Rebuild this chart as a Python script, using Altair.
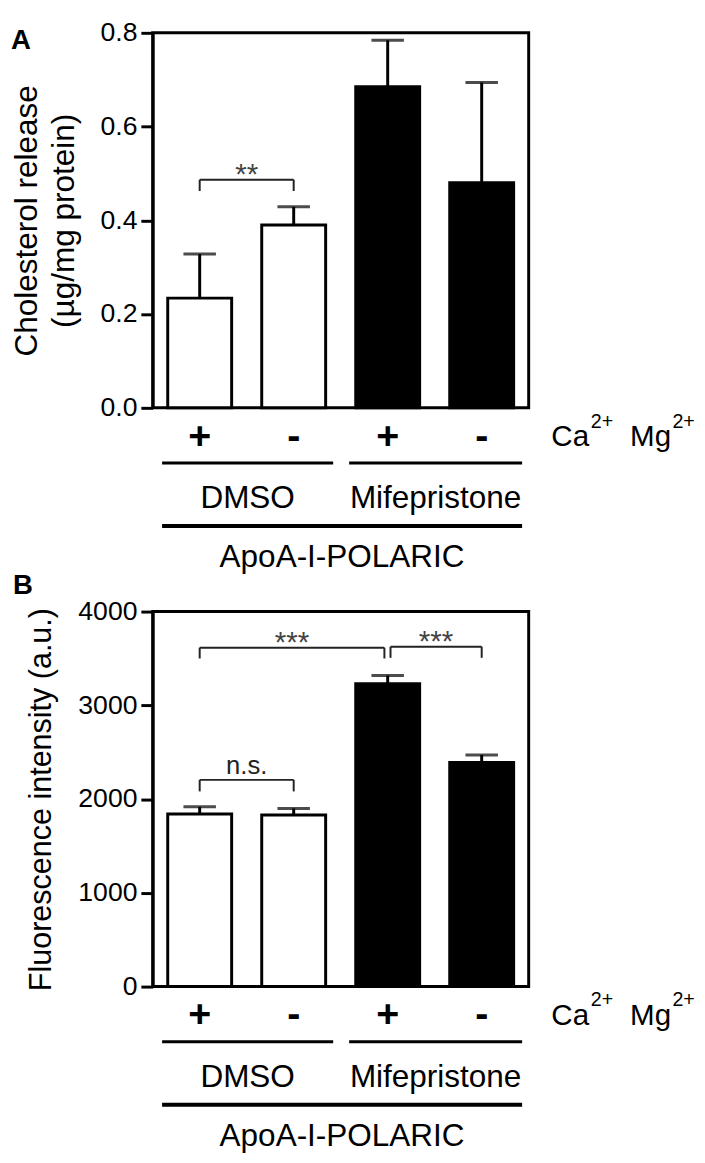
import altair as alt
import pandas as pd

# ---- data ----
conds = ["DMSO|+", "DMSO|-", "Mifepristone|+", "Mifepristone|-"]
treat = ["DMSO", "DMSO", "Mifepristone", "Mifepristone"]

chol_mean = [0.234, 0.390, 0.685, 0.480]
chol_err = [0.094, 0.039, 0.099, 0.214]

fluo_mean = [1840, 1830, 3230, 2390]
fluo_err = [78, 70, 88, 80]

# significance brackets (x in bar-slot units, 0.5 = first bar centre)
a_br_x1 = [0.5]
a_br_x2 = [1.5]
a_br_top = [0.4865]
a_br_bot = [0.4626]
a_br_label = ["**"]

b_br_x1 = [0.5, 0.5, 2.53]
b_br_x2 = [1.5, 2.465, 3.5]
b_br_top = [2205, 3615, 3625]
b_br_bot = [2082, 3500, 3507]
b_br_label = ["n.s.", "***", "***"]

groups = ["DMSO", "Mifepristone"]
group_start = [0.1, 2.09]
group_end = [1.92, 3.93]
outer_label = ["ApoA-I-POLARIC"]
outer_start = [0.1]
outer_end = [3.93]

FONT = "Liberation Sans"
W, H = 382, 381


def panel(mean, err, dom, ticks, fmt, ytitle, tsize, tpad, bx1, bx2, btop, bbot, blab,
          letter, letter_x, letter_y):
    df = pd.DataFrame({"cond": conds, "treat": treat, "v": mean, "e": err})
    bdf = pd.DataFrame({"x1": bx1, "x2": bx2, "top": btop, "bot": bbot, "label": blab})
    gdf = pd.DataFrame({"group": groups, "start": group_start, "end": group_end})
    odf = pd.DataFrame({"group": outer_label, "start": outer_start, "end": outer_end})
    one = pd.DataFrame({"k": [0]})

    yax = alt.Axis(values=ticks, format=fmt, title=ytitle, titleFontSize=tsize,
                   titleLineHeight=38, titlePadding=tpad, titleFontWeight="normal",
                   titleColor="black", labelFontSize=27, labelColor="black",
                   labelPadding=4, tickSize=12, tickWidth=3, tickColor="black",
                   domainWidth=3, domainColor="black", grid=False)
    ysc = alt.Scale(domain=dom, nice=False, zero=True)

    def Y(f):
        return alt.Y(f, type="quantitative", scale=ysc, axis=yax)

    xsc = alt.Scale(paddingInner=0.32, paddingOuter=0.16)

    def XB(ax=None):
        return alt.X("cond:N", sort=conds, scale=xsc, axis=ax)

    xaxis = alt.Axis(title=None, labelExpr="split(datum.label, '|')[1]",
                     labelFontSize=40, labelFontWeight="bold", labelPadding=9,
                     labelAngle=0, domain=False, ticks=False, tickSize=0,
                     labelColor="black")

    def XQ(f):
        return alt.X(f, type="quantitative",
                     scale=alt.Scale(domain=[0, 4], nice=False, zero=False), axis=None)

    bars = alt.Chart(df).mark_bar(stroke="black", strokeWidth=3).encode(
        x=XB(xaxis), y=Y("v"),
        color=alt.Color("treat:N", scale=alt.Scale(domain=["DMSO", "Mifepristone"],
                                                   range=["white", "black"]), legend=None))
    errl = alt.Chart(df).transform_calculate(hi="datum.v + datum.e").mark_rule(
        strokeWidth=3, color="black").encode(x=XB(), y=Y("v"), y2="hi:Q")
    caps = alt.Chart(df).transform_calculate(hi="datum.v + datum.e").mark_tick(
        size=33, thickness=3, color="black").encode(x=XB(), y=Y("hi:Q"))

    hline = alt.Chart(bdf).mark_rule(strokeWidth=2, color="#222").encode(
        x=XQ("x1"), x2="x2", y=Y("top"))
    lv = alt.Chart(bdf).mark_rule(strokeWidth=2, color="#222").encode(
        x=XQ("x1"), y=Y("top"), y2="bot")
    rv = alt.Chart(bdf).mark_rule(strokeWidth=2, color="#222").encode(
        x=XQ("x2"), y=Y("top"), y2="bot")
    stars = alt.Chart(bdf).transform_filter("datum.label != 'n.s.'").transform_calculate(
        mid="(datum.x1 + datum.x2) / 2").mark_text(
        fontSize=30, dy=4, baseline="alphabetic", color="#444").encode(
        x=XQ("mid:Q"), y=Y("top"), text="label:N")
    ns = alt.Chart(bdf).transform_filter("datum.label == 'n.s.'").transform_calculate(
        mid="(datum.x1 + datum.x2) / 2").mark_text(
        fontSize=26, dy=-6, baseline="alphabetic", color="#222").encode(
        x=XQ("mid:Q"), y=Y("top"), text="label:N")

    glines = alt.Chart(gdf).mark_rule(strokeWidth=3, color="black").encode(
        x=XQ("start"), x2="end", y=alt.value(437))
    gtext = alt.Chart(gdf).transform_calculate(mid="(datum.start + datum.end) / 2").mark_text(
        fontSize=32, baseline="middle", color="black").encode(
        x=XQ("mid:Q"), y=alt.value(473), text="group:N")
    oline = alt.Chart(odf).mark_rule(strokeWidth=4, color="black").encode(
        x=XQ("start"), x2="end", y=alt.value(501))
    otext = alt.Chart(odf).transform_calculate(mid="(datum.start + datum.end) / 2").mark_text(
        fontSize=32, baseline="middle", color="black").encode(
        x=XQ("mid:Q"), y=alt.value(533), text="group:N")

    def txt(s, x, y, size, weight="normal"):
        return alt.Chart(one).mark_text(fontSize=size, fontWeight=weight, align="left",
                                        baseline="alphabetic", color="black").encode(
            x=alt.value(x), y=alt.value(y), text=alt.value(s))

    ca = txt("Ca", 405, 420, 30)
    ca2 = txt("2+", 445, 401, 20)
    mg = txt("Mg", 485, 420, 30)
    mg2 = txt("2+", 528, 401, 20)
    let = txt(letter, letter_x, letter_y, 28, "bold")

    return alt.layer(bars, errl, caps, hline, lv, rv, stars, ns, glines, gtext,
                     oline, otext, ca, ca2, mg, mg2, let).resolve_scale(
        x="independent").properties(width=W, height=H)


pa = panel(chol_mean, chol_err, [0, 0.8], [0, 0.2, 0.4, 0.6, 0.8], ".1f",
           ["Cholesterol release", "(\u00b5g/mg protein)"], 32, 20,
           a_br_x1, a_br_x2, a_br_top, a_br_bot, a_br_label, "A", -144, 16)
pb = panel(fluo_mean, fluo_err, [0, 4000], [0, 1000, 2000, 3000, 4000], "d",
           "Fluorescence intensity (a.u.)", 31, 21,
           b_br_x1, b_br_x2, b_br_top, b_br_bot, b_br_label, "B", -142, -18)

chart = alt.vconcat(pa, pb, spacing=207, bounds="flush").properties(
    padding={"left": 0, "top": 0, "right": 0, "bottom": 0}).configure(
    font=FONT).configure_view(stroke="black", strokeWidth=3)

chart.save("out.html", embed_options={"renderer": "svg", "actions": False})
